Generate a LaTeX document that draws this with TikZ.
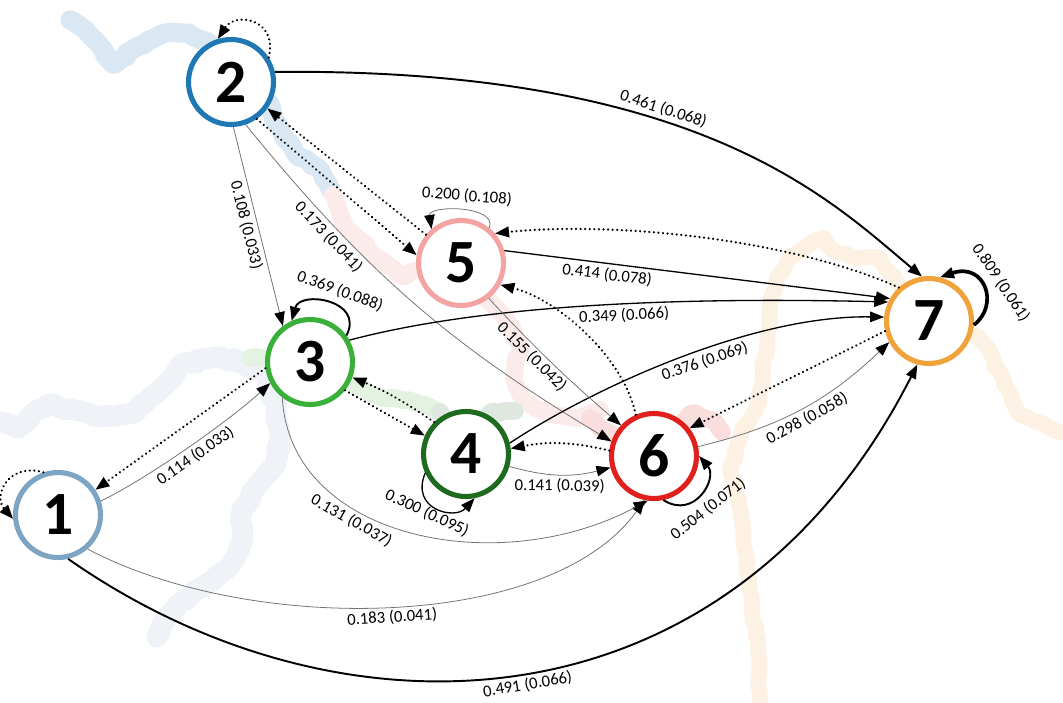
\documentclass[tikz,border=0pt]{standalone}
\usepackage{fontspec}
\setmainfont{Carlito}
\usetikzlibrary{arrows.meta,decorations.pathmorphing}

% ring colours of the seven states
\definecolor{ring1}{HTML}{7DA5C3}
\definecolor{ring2}{HTML}{1F77B4}
\definecolor{ring3}{HTML}{3AAF3A}
\definecolor{ring4}{HTML}{1E6A1E}
\definecolor{ring5}{HTML}{F4A3A3}
\definecolor{ring6}{HTML}{E0201C}
\definecolor{ring7}{HTML}{F0A33A}
% pale traces behind the graph
\definecolor{trace1}{HTML}{EFF3F7}
\definecolor{trace2}{HTML}{DAE8F3}
\definecolor{trace3}{HTML}{E4F2E2}
\definecolor{trace4}{HTML}{DFE8DF}
\definecolor{trace5}{HTML}{FCEBEB}
\definecolor{trace6}{HTML}{FADDDD}
\definecolor{trace7}{HTML}{FDF1E4}

\begin{document}
\begin{tikzpicture}[x=0.02cm, y=-0.02cm,
    >={Triangle[length=8pt, width=6pt]},
    regime/.style={circle, draw=#1, line width=2.9pt, fill=white,
        minimum size=1.7cm, inner sep=0pt,
        font=\fontsize{35}{35}\selectfont\bfseries},
    trace/.style={draw=#1, line width=10pt, line cap=round, line join=round,
        decoration={random steps, segment length=3pt, amplitude=1.2pt},
        decorate, rounded corners=2pt},
    weak/.style={draw=black!55, line width=0.45pt,
        -{Triangle[length=8pt, width=6pt, color=black]}},
    mid/.style={->, line width=0.75pt},
    strong/.style={->, line width=1.1pt},
    heavy/.style={->, line width=2.1pt},
    jump/.style={->, line width=1.4pt, dash pattern=on 0.01pt off 2.6pt, line cap=round},
    lbl/.style={font=\fontsize{9.5}{9.5}\selectfont, inner sep=2pt, sloped},
    looplbl/.style={font=\fontsize{9.5}{9.5}\selectfont, inner sep=1pt}]

    \useasboundingbox (0,0) rectangle (1063,703);
    \clip (0,0) rectangle (1063,703);

    % traces
    \pgfmathsetseed{3}
    \draw[trace=trace1, line width=12pt] (0,422) -- (17,428) -- (33,413) -- (50,404)
        -- (75,410) -- (100,417) -- (133,413) -- (150,398) -- (165,385) -- (180,366)
        -- (215,357) -- (240,362) -- (262,372) -- (275,400) -- (280,432)
        -- (276,463) -- (256,487) -- (241,515) -- (243,537) -- (232,563)
        -- (207,584) -- (180,603) -- (165,620) -- (157,637);
    \draw[trace=trace2, line width=11pt] (70,20) -- (95,40) -- (113,64) -- (135,48)
        -- (160,35) -- (185,33) -- (208,42) -- (231,82) -- (268,102) -- (280,128)
        -- (295,153) -- (318,168) -- (330,188);
    \draw[trace=trace5] (333,195) -- (345,225) -- (370,252) -- (400,275)
        -- (461,263) -- (490,302) -- (508,322) -- (520,345) -- (514,375)
        -- (522,398) -- (545,412) -- (575,418) -- (600,410);
    \draw[trace=trace3] (250,358) -- (310,362) -- (352,384) -- (378,396)
        -- (402,400) -- (425,405) -- (440,412);
    \draw[trace=trace4] (440,412) -- (466,454) -- (490,413) -- (515,411);
    \draw[trace=trace6] (590,418) -- (600,428) -- (654,456) -- (690,414)
        -- (712,420) -- (722,432);
    \draw[trace=trace7, line width=9pt] (760,703) -- (758,650) -- (750,590) -- (745,550)
        -- (741,513) -- (730,470) -- (740,437) -- (757,407) -- (763,373)
        -- (768,333) -- (770,305) -- (777,278) -- (790,258) -- (812,242)
        -- (823,238) -- (832,250) -- (853,257) -- (877,257) -- (885,268)
        -- (929,321) -- (975,335) -- (985,345) -- (1000,372) -- (1010,393)
        -- (1018,413) -- (1032,420) -- (1053,430) -- (1063,432);

    % states
    \node[regime=ring1] (n1) at (58,515) {1};
    \node[regime=ring2] (n2) at (231,82) {2};
    \node[regime=ring3] (n3) at (310,362) {3};
    \node[regime=ring4] (n4) at (466,454) {4};
    \node[regime=ring5] (n5) at (461,263) {5};
    \node[regime=ring6] (n6) at (654,456) {6};
    \node[regime=ring7] (n7) at (929,321) {7};

    % out of 1
    \draw[jump] (n1.109) .. controls (10,462) and (-8,495) .. (n1.185);
    \draw[weak] (n1.18) .. controls (150,477) and (230,420) .. (n3.208)
        node[lbl, below, pos=0.5] {0.114 (0.033)};
    \draw[weak] (n1.-49) .. controls (250,635) and (550,632) .. (n6.-102)
        node[lbl, below, pos=0.5] {0.183 (0.041)};
    \draw[strong] (n1.-77) .. controls (344,752) and (729,735) .. (n7.-105)
        node[lbl, below, pos=0.5] {0.491 (0.066)};

    % out of 2
    \draw[jump] (n2.33) .. controls (278,18) and (235,12) .. (n2.107);
    \draw[weak] (n2.-87) -- node[lbl, below, pos=0.48] {0.108 (0.033)} (n3.127);
    \draw[weak] (n2.-71) to[bend right=10] node[lbl, below, pos=0.27] {0.173 (0.041)} (n6.161);
    \draw[jump] (n2.-55) -- (n5.170);
    \draw[strong] (n2.13) .. controls (700,68) and (830,200) .. (n7.99)
        node[lbl, above, pos=0.4] {0.461 (0.068)};

    % out of 3
    \draw[strong] (n3.36) .. controls (365,300) and (300,290) .. (n3.114);
    \node[looplbl, rotate=-20] (l3) at (340,291) {0.369 (0.088)};
    \draw[jump] (n3.188) -- (n1.34);
    \draw[jump] (n3.-39) -- (n4.156);
    \draw[weak] (n3.232) .. controls (290,540) and (500,580) .. (n6.-98)
        node[lbl, below, pos=0.36] {0.131 (0.037)};
    \draw[mid] (n3.29) .. controls (500,300) and (720,298) .. (n7.155)
        node[lbl, below, pos=0.52] {0.349 (0.066)};

    % out of 4
    \draw[mid] (n4.205) .. controls (410,510) and (455,520) .. (n4.-79);
    \node[looplbl, rotate=-25] (l4) at (427,513) {0.300 (0.095)};
    \draw[jump] (n4.135) to[bend right=6] (n3.-20);
    \draw[weak] (n4.-16) to[bend right=15] node[lbl, below, pos=0.5] {0.141 (0.039)} (n6.195);
    \draw[mid] (n4.14) .. controls (590,390) and (750,315) .. (n7.175)
        node[lbl, below, pos=0.56] {0.376 (0.069)};

    % out of 5
    \draw[weak] (n5.51) .. controls (498,205) and (428,205) .. (n5.131);
    \node[looplbl, rotate=-5] (l5) at (467,196) {0.200 (0.108)};
    \draw[jump] (n5.141) -- (n2.-36);
    \draw[weak] (n5.-52) to[bend right=3] node[lbl, below, inner sep=1pt, pos=0.38] {0.155 (0.042)} (n6.137);
    \draw[mid] (n5.16) -- node[lbl, below, pos=0.27] {0.414 (0.078)} (n7.150);

    % out of 6
    \draw[strong] (n6.-78) .. controls (695,520) and (718,478) .. (n6.0);
    \node[looplbl, rotate=38] (l6) at (708,509) {0.504 (0.071)};
    \draw[jump] (n6.173) to[bend right=12] (n4.7);
    \draw[jump] (n6.114) .. controls (625,360) and (560,300) .. (n5.-29);
    \draw[weak] (n6.12) to[bend right=15] node[lbl, below, pos=0.5] {0.298 (0.058)} (n7.208);

    % out of 7
    \draw[heavy] (n7.-5) .. controls (1000,305) and (985,262) .. (n7.76);
    \node[looplbl, rotate=-56] (l7) at (1001,283) {0.809 (0.061)};
    \draw[jump] (n7.132) .. controls (780,235) and (600,222) .. (n5.41);
    \draw[jump] (n7.193) -- (n6.38);
\end{tikzpicture}
\end{document}
